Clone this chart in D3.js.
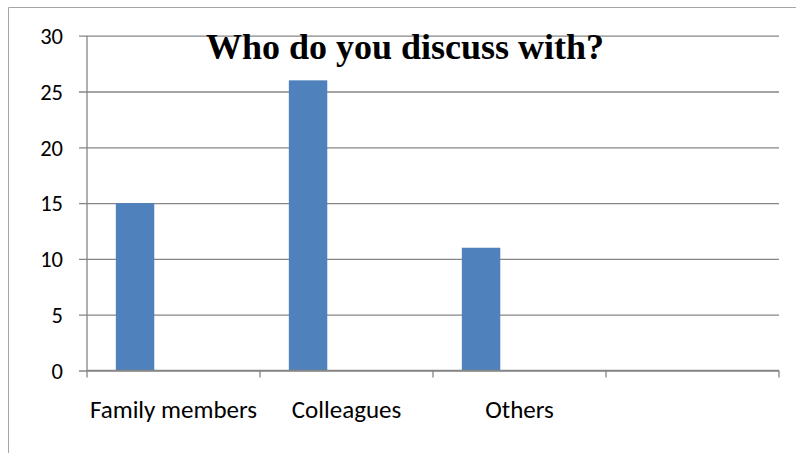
<!DOCTYPE html>
<html>
<head>
<meta charset="utf-8">
<script src="https://cdn.jsdelivr.net/npm/d3@7"></script>
<style>
  html, body { margin: 0; padding: 0; background: #fff; }
  svg { display: block; }
</style>
</head>
<body>
<svg id="chart" width="796" height="453"></svg>
<script>
// Responses per group; the fourth slot on the category axis is empty.
const categories = ["Family members", "Colleagues", "Others", ""];
const seriesNames = ["Series 1", "Series 2", "Series 3"];
const series1 = [15, 26, 11, null];
const series2 = [null, null, null, null];
const series3 = [null, null, null, null];
const yTicks = [0, 5, 10, 15, 20, 25, 30];
const title = "Who do you discuss with?";

const seriesValues = [series1, series2, series3];

const svg = d3.select("#chart");
const W = 796, H = 453;
const plot = { left: 87, right: 779, top: 35.7, bottom: 370.5 };
const axisColor = "#868686";
const labelFont = "Carlito, Calibri, Lato, 'Open Sans', sans-serif";

// Chart frame (top and left edges)
svg.append("path")
  .attr("d", `M8.5,${H} V7.5 H${W}`)
  .attr("fill", "none")
  .attr("stroke", "#a6a6a6")
  .attr("stroke-width", 1);

const x = d3.scaleBand()
  .domain(categories.map((d, i) => i))
  .range([plot.left, plot.right])
  .paddingInner(0).paddingOuter(0);

const xs = d3.scaleBand()
  .domain(seriesNames)
  .range([0, x.bandwidth()])
  .paddingInner(0).paddingOuter(0.75);

const y = d3.scaleLinear()
  .domain([0, 30])
  .range([plot.bottom, plot.top]);

// Horizontal gridlines, extended left to form the value-axis ticks
const yAxis = d3.axisLeft(y)
  .tickValues(yTicks)
  .tickSize(-(plot.right - plot.left))
  .tickSizeOuter(0)
  .tickPadding(24)
  .tickFormat(d3.format("d"));

const gy = svg.append("g")
  .attr("transform", `translate(${plot.left},0)`)
  .call(yAxis);
gy.select(".domain").remove();
gy.selectAll(".tick line")
  .attr("stroke", axisColor)
  .attr("stroke-width", 1.3)
  .attr("x1", -8);
gy.selectAll(".tick text")
  .attr("fill", "#000")
  .attr("font-family", labelFont)
  .attr("font-size", 22.5)
  .attr("dy", "0.35em");

// Bars
seriesValues.forEach((vals, si) => {
  svg.append("g")
    .selectAll("rect")
    .data(vals.map((v, i) => ({ v, i })).filter(d => d.v != null))
    .join("rect")
    .attr("x", d => x(d.i) + xs(seriesNames[si]))
    .attr("width", xs.bandwidth())
    .attr("y", d => y(d.v))
    .attr("height", d => y(0) - y(d.v))
    .attr("fill", "#4f81bd");
});

// Value axis line
svg.append("line")
  .attr("x1", plot.left).attr("x2", plot.left)
  .attr("y1", plot.top).attr("y2", plot.bottom)
  .attr("stroke", axisColor).attr("stroke-width", 1.3);

// Category axis with ticks at slot boundaries
const gx = svg.append("g")
  .attr("transform", `translate(0,${plot.bottom})`);
gx.append("line")
  .attr("x1", plot.left).attr("x2", plot.right)
  .attr("stroke", axisColor).attr("stroke-width", 1.3);
const bounds = categories.map((d, i) => x(i)).concat([x(categories.length - 1) + x.bandwidth()]);
gx.selectAll("line.tick")
  .data(bounds)
  .join("line")
  .attr("class", "tick")
  .attr("x1", d => d).attr("x2", d => d)
  .attr("y1", 0).attr("y2", 7)
  .attr("stroke", axisColor).attr("stroke-width", 1.3);
gx.selectAll("text")
  .data(categories)
  .join("text")
  .attr("x", (d, i) => x(i) + x.bandwidth() / 2)
  .attr("y", 47.5)
  .attr("text-anchor", "middle")
  .attr("font-family", labelFont)
  .attr("font-size", 25)
  .attr("fill", "#000")
  .text(d => d);

// Title
svg.append("text")
  .attr("x", 405)
  .attr("y", 59)
  .attr("text-anchor", "middle")
  .attr("font-family", "'Liberation Serif', 'Times New Roman', serif")
  .attr("font-weight", "bold")
  .attr("font-size", 36)
  .attr("fill", "#000")
  .text(title);
</script>
</body>
</html>
